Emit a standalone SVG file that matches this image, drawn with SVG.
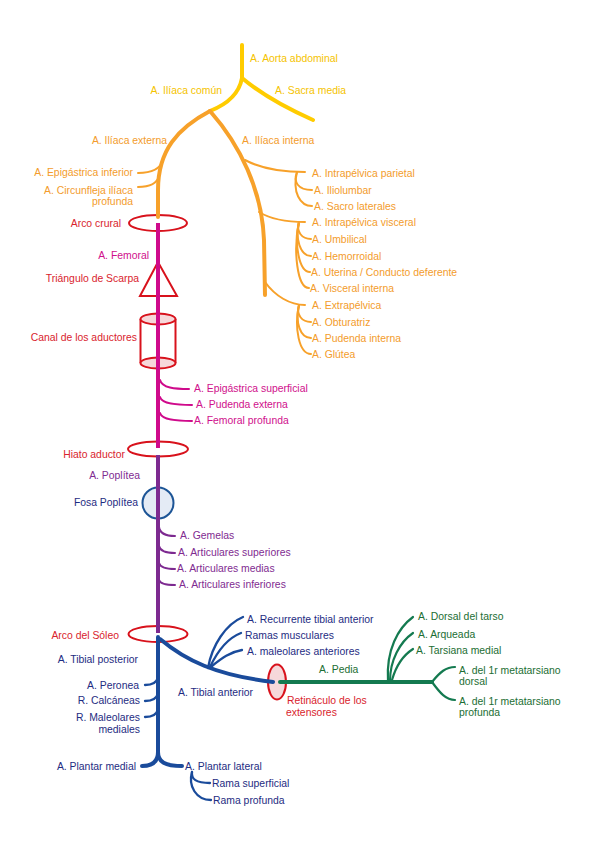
<svg xmlns="http://www.w3.org/2000/svg" width="599" height="848" viewBox="0 0 599 848">
<style>
text{font-family:"Liberation Sans",Arial,sans-serif;font-size:10.4px}
.e{text-anchor:end}
.ty{fill:#F5C300}.to{fill:#F39C2C}.tr{fill:#D9232D}.tm{fill:#D0108C}.tp{fill:#7F2B91}.tb{fill:#1E2C82}.tg{fill:#1B6E33}
.c{fill:none;stroke-linecap:round}
.y{stroke:#FFCC00;stroke-width:4}
.o{stroke:#F7A12A;stroke-width:4}
.os{stroke:#F7A12A;stroke-width:2}
.m{stroke:#CF0A8B;stroke-width:4;stroke-linecap:butt}
.ms{stroke:#CF0A8B;stroke-width:2}
.p{stroke:#7D2A90;stroke-width:4;stroke-linecap:butt}
.ps{stroke:#7D2A90;stroke-width:2}
.b{stroke:#1A4B9B;stroke-width:4}
.bs{stroke:#1A4B9B;stroke-width:2.3}
.g{stroke:#147A50;stroke-width:4}
.gs{stroke:#147A50;stroke-width:2.2}
.lm{fill:none;stroke:#D8121C;stroke-width:2}
.lf{fill:#F6D8DA;stroke:#D8121C;stroke-width:2}
</style>

<!-- landmark nodes -->
<g id="arco-crural"><ellipse class="lm" cx="158" cy="223" rx="29" ry="8"/></g>
<g id="triangulo-scarpa"><polygon class="lm" points="158,262 140,296 177,296"/></g>
<g id="canal-aductores">
<line class="lm" x1="140.5" y1="319" x2="140.5" y2="363"/>
<line class="lm" x1="175.5" y1="319" x2="175.5" y2="363"/>
<ellipse class="lf" cx="158" cy="363" rx="17.5" ry="5.5"/>
<ellipse class="lf" cx="158" cy="319" rx="17.5" ry="5.5"/>
</g>
<g id="hiato-aductor"><ellipse class="lm" cx="158" cy="449" rx="30" ry="7.5"/></g>
<g id="fosa-poplitea"><circle cx="158" cy="503" r="15.5" fill="#E4EBF5" stroke="#1D5596" stroke-width="2"/></g>
<g id="arco-soleo"><ellipse class="lm" cx="158" cy="634" rx="29.5" ry="8"/></g>
<g id="retinaculo"><ellipse class="lf" cx="277" cy="682" rx="9" ry="17.5"/></g>

<!-- connectors -->
<g id="connectors">
<path class="c y" d="M242,45 L242,78"/>
<path class="c y" d="M242,78 Q268,100 313,120"/>
<path class="c y" d="M242,78 Q238,100 210,111"/>
<path class="c o" d="M210,111 C178,128 158,150 158,190 L158,217"/>
<path class="c o" d="M210,111 C240,145 262,190 264,240 L265,295"/>
<path class="c os" d="M138,173 C150,173 160,170 163,160"/>
<path class="c os" d="M138,187 C150,187 157,184 159,176"/>
<path class="c os" d="M245,160 C260,168 280,172 305,172"/>
<path class="c os" d="M297,172 C293,182 298,190 312,190"/>
<path class="c os" d="M297,172 C292,192 300,206 312,206"/>
<path class="c os" d="M259,212 C272,220 290,222 305,222"/>
<path class="c os" d="M299,222 C296,232 302,239 311,239"/>
<path class="c os" d="M299,222 C295,238 300,256 311,256"/>
<path class="c os" d="M299,222 C294,244 299,272 310,272"/>
<path class="c os" d="M299,222 C293,250 297,288 309,288"/>
<path class="c os" d="M265,282 C275,296 290,305 305,305"/>
<path class="c os" d="M299,305 C296,315 302,322 311,322"/>
<path class="c os" d="M299,305 C295,322 300,338 311,338"/>
<path class="c os" d="M299,305 C294,328 299,354 311,354"/>
<path class="c m" d="M158,223 L158,448"/>
<path class="c ms" d="M160,380 C162,388 175,389 189,389"/>
<path class="c ms" d="M160,397 C162,404 177,405 192,405"/>
<path class="c ms" d="M160,413 C162,420 177,421 192,421"/>
<path class="c p" d="M158,455 L158,633"/>
<path class="c ps" d="M159,527 C160,534 166,536 175,536"/>
<path class="c ps" d="M159,546 C160,551 166,553 175,553"/>
<path class="c ps" d="M159,563 C160,567 166,569 175,569"/>
<path class="c ps" d="M159,580 C160,584 166,585 175,585"/>
<path class="c b" d="M158,637 L158,753"/>
<path class="c b" d="M158,752 C158,762 152,766 142,766"/>
<path class="c b" d="M158,752 C158,762 165,766 182,766"/>
<path class="c bs" d="M145,685 C152,685 157,682 158,677"/>
<path class="c bs" d="M145,701 C152,701 157,698 158,693"/>
<path class="c bs" d="M145,717 C152,717 157,714 158,709"/>
<path class="c bs" d="M192,772 C191,779 196,783 210,783"/>
<path class="c bs" d="M192,772 C188,786 196,800 211,800"/>
<path class="c b" d="M160,639 C185,660 215,675 273,682"/>
<path class="c bs" d="M208,668 C212,645 226,624 243,617"/>
<path class="c bs" d="M210,667 C218,650 228,638 241,633"/>
<path class="c bs" d="M212,666 C222,658 230,652 242,650"/>
<path class="c g" d="M280,682 L432,682"/>
<path class="c gs" d="M432,682 C440,672 446,667 455,667"/>
<path class="c gs" d="M432,682 C440,693 446,700 455,700"/>
<path class="c gs" d="M388,681 C386,650 398,628 413,617"/>
<path class="c gs" d="M390,681 C390,660 400,642 413,633"/>
<path class="c gs" d="M392,680 C396,666 402,656 413,649"/>
</g>

<!-- labels -->
<g id="labels-yellow">
<text class="ty" x="250" y="61.5">A. Aorta abdominal</text>
<text class="ty e" x="222" y="94">A. Ilíaca común</text>
<text class="ty" x="275" y="94">A. Sacra media</text>
</g>
<g id="labels-orange">
<text class="to e" x="167" y="144">A. Ilíaca externa</text>
<text class="to" x="242" y="144">A. Ilíaca interna</text>
<text class="to e" x="133" y="176">A. Epigástrica inferior</text>
<text class="to e" x="133" y="193.5">A. Circunfleja ilíaca</text>
<text class="to e" x="133" y="205">profunda</text>
<text class="to" x="312" y="176.5">A. Intrapélvica parietal</text>
<text class="to" x="314" y="193.5">A. Iliolumbar</text>
<text class="to" x="314" y="209.5">A. Sacro laterales</text>
<text class="to" x="312" y="226">A. Intrapélvica visceral</text>
<text class="to" x="312" y="242.5">A. Umbilical</text>
<text class="to" x="312" y="259.5">A. Hemorroidal</text>
<text class="to" x="311" y="276">A. Uterina / Conducto deferente</text>
<text class="to" x="310" y="291.5">A. Visceral interna</text>
<text class="to" x="312" y="309">A. Extrapélvica</text>
<text class="to" x="312" y="325.5">A. Obturatriz</text>
<text class="to" x="312" y="341.5">A. Pudenda interna</text>
<text class="to" x="312" y="357.5">A. Glútea</text>
</g>
<g id="labels-red">
<text class="tr e" x="121" y="227">Arco crural</text>
<text class="tr e" x="139" y="282">Triángulo de Scarpa</text>
<text class="tr e" x="137" y="341">Canal de los aductores</text>
<text class="tr e" x="125" y="457.5">Hiato aductor</text>
<text class="tr e" x="119" y="638.5">Arco del Sóleo</text>
<text class="tr" x="287" y="704">Retináculo de los</text>
<text class="tr" x="286" y="715.5">extensores</text>
</g>
<g id="labels-magenta">
<text class="tm e" x="149" y="259">A. Femoral</text>
<text class="tm" x="194" y="392">A. Epigástrica superficial</text>
<text class="tm" x="196" y="408">A. Pudenda externa</text>
<text class="tm" x="194" y="424">A. Femoral profunda</text>
</g>
<g id="labels-purple">
<text class="tp e" x="140" y="478.5">A. Poplítea</text>
<text class="tp" x="180" y="539">A. Gemelas</text>
<text class="tp" x="178" y="556">A. Articulares superiores</text>
<text class="tp" x="177" y="572">A. Articulares medias</text>
<text class="tp" x="179" y="588">A. Articulares inferiores</text>
</g>
<g id="labels-blue">
<text class="tb e" x="138" y="506">Fosa Poplítea</text>
<text class="tb" x="247" y="622.5">A. Recurrente tibial anterior</text>
<text class="tb" x="245" y="638.5">Ramas musculares</text>
<text class="tb" x="247" y="655">A. maleolares anteriores</text>
<text class="tb e" x="138" y="662.5">A. Tibial posterior</text>
<text class="tb e" x="139" y="688.5">A. Peronea</text>
<text class="tb" x="178" y="696">A. Tibial anterior</text>
<text class="tb e" x="140" y="704">R. Calcáneas</text>
<text class="tb e" x="140" y="721">R. Maleolares</text>
<text class="tb e" x="140" y="732.5">mediales</text>
<text class="tb e" x="136" y="770">A. Plantar medial</text>
<text class="tb" x="185" y="770">A. Plantar lateral</text>
<text class="tb" x="212" y="787">Rama superficial</text>
<text class="tb" x="213" y="804">Rama profunda</text>
</g>
<g id="labels-green">
<text class="tg" x="319" y="672.5">A. Pedia</text>
<text class="tg" x="418" y="620">A. Dorsal del tarso</text>
<text class="tg" x="418" y="637.5">A. Arqueada</text>
<text class="tg" x="416" y="654">A. Tarsiana medial</text>
<text class="tg" x="459" y="673.5">A. del 1r metatarsiano</text>
<text class="tg" x="459" y="685">dorsal</text>
<text class="tg" x="459" y="704.5">A. del 1r metatarsiano</text>
<text class="tg" x="459" y="716">profunda</text>
</g>
</svg>
